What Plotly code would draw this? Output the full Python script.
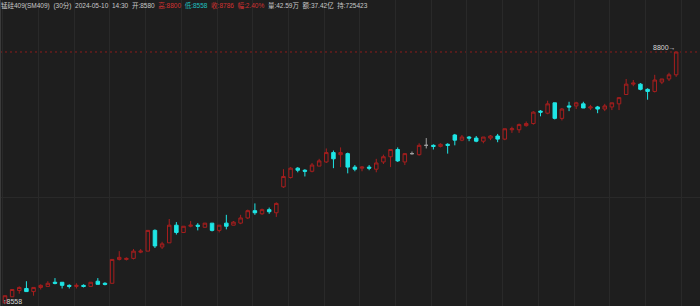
import plotly.graph_objects as go

# ---- data (30-min bars, 锰硅409) ----
open_ = [8558, 8564, 8570, 8572, 8569, 8573, 8574, 8578, 8578, 8575,
         8574, 8575, 8574, 8579, 8577, 8577, 8600, 8600, 8601, 8607,
         8608, 8628, 8612, 8616, 8633, 8626, 8632, 8633, 8631, 8635,
         8628, 8635, 8633, 8635, 8640, 8647, 8644, 8648, 8645, 8670,
         8679, 8688, 8686, 8685, 8690, 8694, 8703, 8701, 8702, 8689,
         8688, 8689, 8687, 8694, 8699, 8706, 8694, 8702, 8701, 8710,
         8710, 8709, 8711, 8720, 8715, 8718, 8717, 8714, 8717, 8719,
         8716, 8725, 8725, 8729, 8731, 8743, 8741, 8751, 8736, 8748,
         8748, 8750, 8746, 8747, 8745, 8747, 8750, 8759, 8769, 8769,
         8764, 8762, 8771, 8774, 8778]
high = [8565, 8571, 8574, 8579, 8573, 8576, 8579, 8582, 8578, 8576,
        8577, 8576, 8578, 8582, 8578, 8600, 8608, 8602, 8610, 8610,
        8628, 8629, 8617, 8639, 8636, 8632, 8637, 8635, 8635, 8635,
        8633, 8643, 8637, 8643, 8648, 8654, 8649, 8650, 8655, 8687,
        8689, 8689, 8687, 8693, 8697, 8707, 8705, 8708, 8703, 8691,
        8690, 8691, 8697, 8701, 8706, 8708, 8702, 8704, 8712, 8717,
        8711, 8712, 8712, 8721, 8720, 8719, 8719, 8718, 8720, 8721,
        8726, 8728, 8731, 8733, 8743, 8744, 8753, 8751, 8746, 8752,
        8752, 8752, 8749, 8748, 8750, 8751, 8756, 8774, 8773, 8770,
        8765, 8778, 8774, 8780, 8800]
low = [8558, 8564, 8567, 8569, 8565, 8571, 8574, 8576, 8572, 8572,
       8572, 8573, 8574, 8576, 8575, 8577, 8599, 8599, 8600, 8606,
       8608, 8611, 8610, 8616, 8624, 8626, 8631, 8628, 8631, 8627,
       8626, 8629, 8633, 8634, 8639, 8643, 8643, 8644, 8641, 8669,
       8678, 8684, 8680, 8684, 8690, 8693, 8688, 8689, 8683, 8685,
       8685, 8686, 8684, 8692, 8689, 8694, 8691, 8701, 8700, 8707,
       8706, 8708, 8702, 8710, 8714, 8714, 8713, 8712, 8715, 8713,
       8715, 8722, 8722, 8728, 8730, 8738, 8740, 8735, 8734, 8743,
       8745, 8746, 8744, 8741, 8743, 8744, 8744, 8759, 8767, 8763,
       8754, 8761, 8769, 8772, 8776]
close = [8565, 8571, 8573, 8569, 8573, 8575, 8577, 8577, 8575, 8574,
         8575, 8574, 8578, 8576, 8576, 8600, 8602, 8601, 8608, 8608,
         8628, 8613, 8615, 8633, 8626, 8632, 8633, 8632, 8635, 8628,
         8633, 8632, 8636, 8640, 8647, 8645, 8648, 8646, 8654, 8680,
         8688, 8686, 8685, 8691, 8695, 8703, 8697, 8703, 8689, 8687,
         8689, 8688, 8693, 8699, 8706, 8695, 8702, 8702, 8710, 8710,
         8709, 8711, 8710, 8715, 8718, 8717, 8714, 8718, 8719, 8716,
         8726, 8726, 8730, 8731, 8742, 8742, 8750, 8736, 8745, 8747,
         8751, 8746, 8747, 8745, 8748, 8751, 8756, 8769, 8770, 8764,
         8762, 8773, 8774, 8778, 8800]

header_parts = [
    ("锰硅409(SM409)", "#c8c8c8"), ("(30分)", "#c8c8c8"), ("2024-05-10", "#c8c8c8"),
    ("14:30", "#c8c8c8"), ("开:8580", "#c8c8c8"), ("高:8800", "#d23232"),
    ("低:8558", "#1ec0c0"), ("收:8786", "#d23232"), ("幅:2.40%", "#d23232"),
    ("量:42.59万", "#c8c8c8"), ("额:37.42亿", "#c8c8c8"), ("持:725423", "#c8c8c8"),
]
high_label = "8800→"
low_label = "↑8558"
top_price = 8800

# ---- build ----
n = len(open_)
xs = list(range(n))

RED = "#a81e1e"
CYAN = "#1ee6e6"
GRAY = "#a0a0a0"
BG = "#1e1e1e"

def subset(pred):
    o, h, l, c = [], [], [], []
    for i in range(n):
        if pred(open_[i], close[i]):
            o.append(open_[i]); h.append(high[i]); l.append(low[i]); c.append(close[i])
        else:
            o.append(None); h.append(None); l.append(None); c.append(None)
    return o, h, l, c

fig = go.Figure()
groups = [
    (lambda o, c: c > o, RED, "rgba(0,0,0,0)"),
    (lambda o, c: c < o, CYAN, CYAN),
    (lambda o, c: c == o, GRAY, GRAY),
]
for pred, lc, fc in groups:
    o, h, l, c = subset(pred)
    fig.add_trace(go.Candlestick(
        x=xs, open=o, high=h, low=l, close=c,
        increasing=dict(line=dict(color=lc, width=1), fillcolor=fc),
        decreasing=dict(line=dict(color=lc, width=1), fillcolor=fc),
        whiskerwidth=0, showlegend=False, hoverinfo="skip",
    ))

ymax = 8850.13
ymin = 8555.1

fig.update_layout(
    width=700, height=306,
    margin=dict(l=0, r=0, t=0, b=0, pad=0),
    paper_bgcolor=BG, plot_bgcolor=BG,
    showlegend=False,
    xaxis=dict(range=[-0.70, 97.34], showgrid=True, gridcolor="#292929", gridwidth=1,
               tick0=-0.3, dtick=5, showticklabels=False, zeroline=False,
               rangeslider=dict(visible=False), showline=False, ticks=""),
    yaxis=dict(range=[ymin, ymax], showgrid=True, gridcolor="#292929", gridwidth=1,
               tickvals=[8660], showticklabels=False, zeroline=False, ticks=""),
    shapes=[
        dict(type="line", xref="paper", x0=0, x1=1, yref="y", y0=top_price, y1=top_price,
             line=dict(color="#8c1c1c", width=1, dash="2px,3px"), layer="below"),
        dict(type="line", xref="paper", x0=0.0007, x1=0.0007, yref="paper", y0=0, y1=1,
             line=dict(color="#3c3c3c", width=1)),
    ],
)

font_family = "Liberation Sans, Noto Sans CJK SC, sans-serif"
header_html = "&nbsp;&nbsp;".join(
    f"<span style='color:{col}'>{txt}</span>" for txt, col in header_parts
)
fig.add_annotation(text=header_html, xref="paper", yref="paper",
                   x=0, y=1 - 5.5 / 306, xanchor="left", yanchor="middle",
                   showarrow=False, font=dict(size=6.5, color="#c8c8c8", family=font_family),
                   borderpad=0)

fig.add_annotation(text=high_label, xref="x", yref="y", x=n - 1 + 0.1, y=top_price,
                   xanchor="right", yanchor="bottom", showarrow=False,
                   font=dict(size=7, color="#d8d8d8", family=font_family), borderpad=0)
fig.add_annotation(text=low_label, xref="paper", yref="paper", x=2 / 700, y=0,
                   xanchor="left", yanchor="bottom", showarrow=False,
                   font=dict(size=7, color="#d8d8d8", family=font_family), borderpad=0)

fig.write_html("out.html")
